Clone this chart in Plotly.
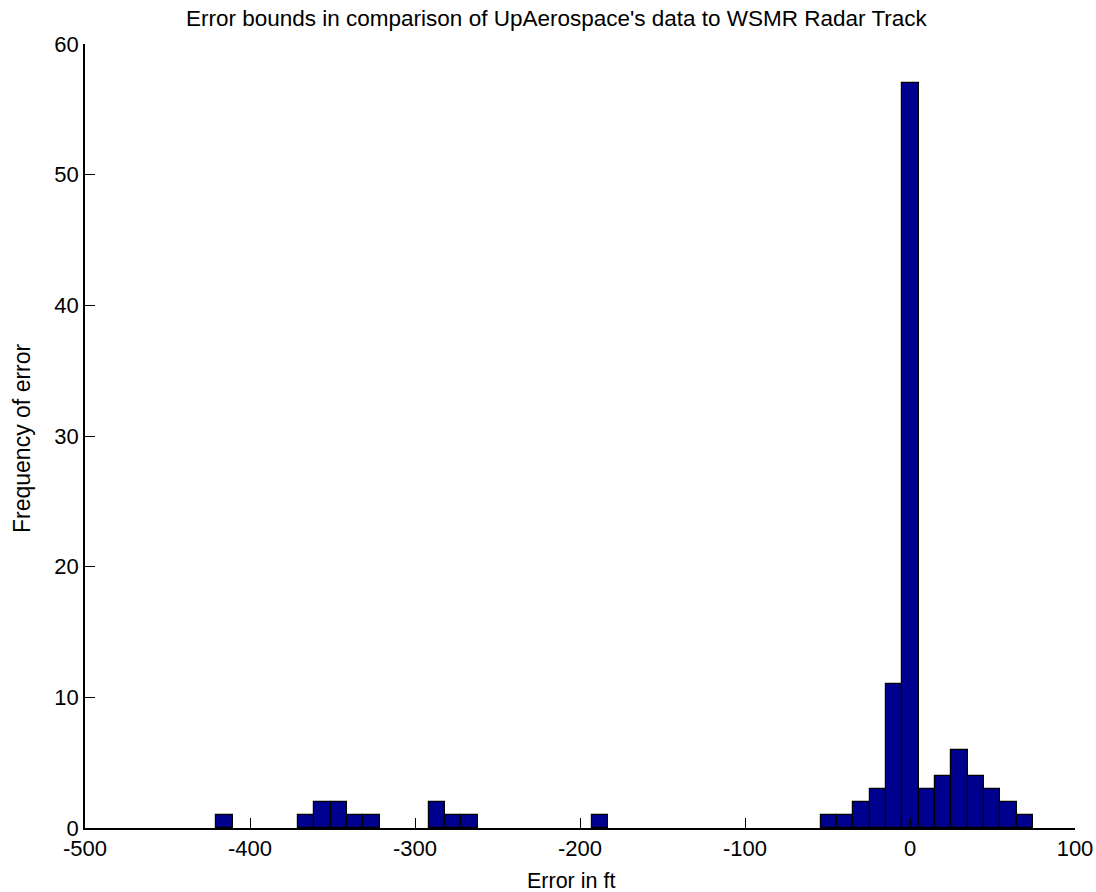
import plotly.graph_objects as go

# Histogram data (50 bins)
bin_start = -420.5
bin_width = 9.9
counts = [1, 0, 0, 0, 0, 1, 2, 2, 1, 1,
          0, 0, 0, 2, 1, 1, 0, 0, 0, 0,
          0, 0, 0, 1, 0, 0, 0, 0, 0, 0,
          0, 0, 0, 0, 0, 0, 0, 1, 1, 2,
          3, 11, 57, 3, 4, 6, 4, 3, 2, 1]

x_ticks = [-500, -400, -300, -200, -100, 0, 100]
y_ticks = [0, 10, 20, 30, 40, 50, 60]

centers = [bin_start + bin_width * (i + 0.5) for i in range(len(counts))]
xs = [c for c, n in zip(centers, counts) if n > 0]
ys = [n for n in counts if n > 0]

FONT = "Liberation Sans, Arial, sans-serif"

fig = go.Figure()
fig.add_trace(go.Bar(
    x=xs, y=ys, width=bin_width,
    marker=dict(color="rgb(0,0,143)", line=dict(color="black", width=1.2)),
    showlegend=False,
))

fig.update_layout(
    width=1096, height=892,
    margin=dict(l=85, r=21, t=44, b=64, autoexpand=False),
    paper_bgcolor="white", plot_bgcolor="white",
    font=dict(family=FONT, size=22, color="black"),
    bargap=0,
)
fig.update_xaxes(
    range=[-500, 100], tickvals=x_ticks, ticktext=[str(v) for v in x_ticks],
    ticks="inside", ticklen=10, tickwidth=1.3, tickcolor="black",
    showline=True, linecolor="black", linewidth=1.5,
    showgrid=False, zeroline=False, mirror=False, automargin=False,
    tickfont=dict(family=FONT, size=22, color="black"),
)
fig.update_yaxes(
    range=[0, 60], tickvals=y_ticks, ticktext=[str(v) for v in y_ticks],
    ticks="inside", ticklen=10, tickwidth=1.3, tickcolor="black",
    showline=True, linecolor="black", linewidth=1.5,
    showgrid=False, zeroline=False, mirror=False, automargin=False,
    tickfont=dict(family=FONT, size=22, color="black"),
)

fig.add_annotation(text="Error bounds in comparison of UpAerospace's data to WSMR Radar Track",
                   xref="paper", yref="paper", x=(557 - 85) / 990, y=1, yshift=26,
                   xanchor="center", yanchor="middle", showarrow=False,
                   font=dict(family=FONT, size=22.5, color="black"))
fig.add_annotation(text="Error in ft",
                   xref="paper", yref="paper", x=(571 - 85) / 990, y=0, yshift=-(881 - 828),
                   xanchor="center", yanchor="middle", showarrow=False,
                   font=dict(family=FONT, size=21.5, color="black"))
fig.add_annotation(text="Frequency of error",
                   xref="paper", yref="paper", x=0, xshift=-(85 - 22), y=(828 - 438) / 784,
                   xanchor="center", yanchor="middle", textangle=-90, showarrow=False,
                   font=dict(family=FONT, size=23, color="black"))

fig.write_html("out.html")
